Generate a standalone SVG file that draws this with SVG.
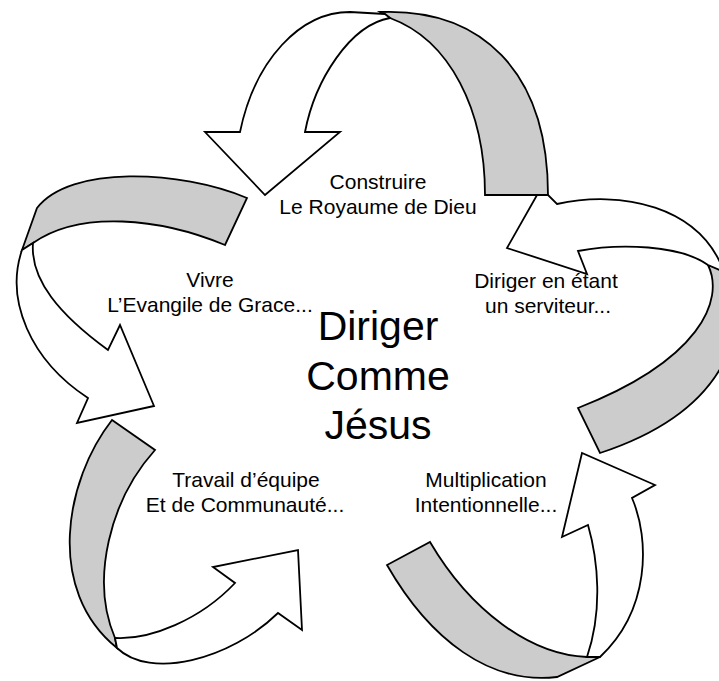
<svg xmlns="http://www.w3.org/2000/svg" width="719" height="681" viewBox="0 0 719 681">
<style>
  .lbl { font-family: "Liberation Sans", Arial, sans-serif; font-size: 21px; fill: #000; text-anchor: middle; }
  .title { font-family: "Liberation Sans", Arial, sans-serif; font-size: 41px; fill: #000; text-anchor: middle; }
  .front { fill: #ffffff; stroke: #000; stroke-width: 1.8; stroke-linejoin: miter; }
  .back { fill: #cccccc; stroke: #000; stroke-width: 1.8; stroke-linejoin: miter; }
</style>
<rect width="719" height="681" fill="#ffffff"/>

<g id="center">
  <text class="title" x="378" y="340">Diriger</text>
  <text class="title" x="378" y="390">Comme</text>
  <text class="title" x="378" y="439">Jésus</text>
</g>
<g id="label-construire">
  <text class="lbl" x="378" y="189">Construire</text>
  <text class="lbl" x="378" y="214">Le Royaume de Dieu</text>
</g>
<g id="label-vivre">
  <text class="lbl" x="210" y="287">Vivre</text>
  <text class="lbl" x="210" y="312">L’Evangile de Grace...</text>
</g>
<g id="label-serviteur">
  <text class="lbl" x="546" y="288">Diriger en étant</text>
  <text class="lbl" x="548" y="313">un serviteur...</text>
</g>
<g id="label-equipe">
  <text class="lbl" x="246" y="487">Travail d’équipe</text>
  <text class="lbl" x="245" y="512">Et de Communauté...</text>
</g>
<g id="label-multiplication">
  <text class="lbl" x="486" y="487">Multiplication</text>
  <text class="lbl" x="486" y="512">Intentionnelle...</text>
</g>

<g id="connectors">
  <!-- right arrow (toward serviteur) -->
  <g id="arrow-right">
    <path class="back" d="M708,265 C725,300 700,360 578,408 L600,453 C700,420 748,360 738,272 Z"/>
    <path class="front" d="M557,204 C620,190 700,205 724,272 L708,265 C680,245 620,243 578,251 L587,274 L507,248 L541,188 Z"/>
  </g>
  <!-- top arrow (toward Construire) -->
  <g id="arrow-top">
    <path class="back" d="M380,12 C480,8 548,70 548,195 L485,195 C485,110 450,40 390,18 Z"/>
    <path class="front" d="M240,132 C255,60 300,12 350,12 L385,14 L390,18 C350,25 315,80 305,132 L340,132 L265,195 L205,132 Z"/>
  </g>
  <!-- left arrow (toward Vivre) -->
  <g id="arrow-left">
    <path class="back" d="M247,198 C180,170 70,165 37,208 L22,250 L33,243 C80,210 160,218 225,245 Z"/>
    <path class="front" d="M22,250 C5,300 30,360 88,398 L77,423 L154,406 L120,325 L108,350 C60,315 30,280 33,243 Z"/>
  </g>
  <!-- bottom-left arrow (toward Travail) -->
  <g id="arrow-bottom-left">
    <path class="back" d="M112,420 C65,480 45,590 117,648 L115,638 C90,580 110,500 155,450 Z"/>
    <path class="front" d="M115,638 C150,640 200,620 235,583 L213,567 L298,550 L302,630 L278,613 C230,660 150,680 117,648 Z"/>
  </g>
  <!-- bottom-right arrow (toward Multiplication) -->
  <g id="arrow-bottom-right">
    <path class="back" d="M387,565 C430,640 490,685 557,677 L600,657 L587,657 C530,655 470,610 430,542 Z"/>
    <path class="front" d="M587,657 C603,610 598,560 588,525 L562,537 L582,453 L655,485 L632,498 C650,540 650,610 600,657 Z"/>
  </g>
</g>
</svg>
